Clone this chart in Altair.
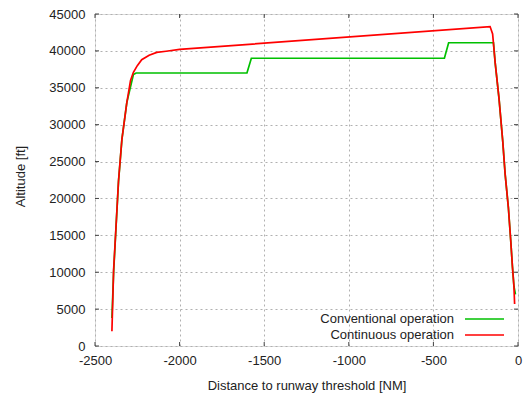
import altair as alt
import pandas as pd

# Conventional operation (green)
conv_x = [-2400, -2390, -2376, -2361, -2341, -2312, -2273, -2257, -1602, -1576,
          -435, -410, -145, -135, -112, -90, -76, -57, -43, -33, -24, -15]
conv_y = [3800, 10000, 16000, 22300, 28000, 33000, 36800, 37000, 37000, 39000,
          39000, 41100, 41100, 38400, 33500, 27700, 23300, 18800, 14300, 10800, 8100, 7000]

# Continuous operation (red)
cont_x = [-2400, -2390, -2376, -2361, -2341, -2312, -2290, -2273, -2250, -2224,
          -2180, -2135, -2080, -2000, -165, -150, -135, -112, -90, -76, -57, -43,
          -33, -24, -20]
cont_y = [2000, 10300, 16100, 22400, 28000, 33000, 36000, 37100, 38000, 38800,
          39400, 39800, 39950, 40200, 43300, 42300, 38400, 33500, 27700, 23300,
          18800, 14300, 10800, 8100, 5700]

x_ticks = [-2500, -2000, -1500, -1000, -500, 0]
y_ticks = [0, 5000, 10000, 15000, 20000, 25000, 30000, 35000, 40000, 45000]
series_names = ["Conventional operation", "Continuous operation"]
series_colors = ["#00c000", "#ff0000"]

W, H = 423, 332
FONT = "Liberation Sans"
TXT = "#222222"

df_conv = pd.DataFrame({"x": conv_x, "y": conv_y, "order": range(len(conv_x))})
df_cont = pd.DataFrame({"x": cont_x, "y": cont_y, "order": range(len(cont_x))})

xscale = alt.Scale(domain=[-2500, 0], nice=False, zero=False)
yscale = alt.Scale(domain=[0, 45000], nice=False, zero=False)

xaxis = alt.Axis(values=x_ticks, title="Distance to runway threshold [NM]",
                 grid=True, gridColor="#b0b0b0", gridDash=[2, 3], gridWidth=1,
                 ticks=False, labelPadding=8, labelFontSize=13, labelFont=FONT,
                 labelColor=TXT, titleFont=FONT, titleFontSize=13, titleFontWeight="normal",
                 titleColor=TXT, titleX=W / 2, titleY=39, titleBaseline="middle",
                 domain=False, labelExpr="'' + datum.value", labelFlush=False)
yaxis = alt.Axis(values=y_ticks, title="Altitude [ft]",
                 grid=True, gridColor="#b0b0b0", gridDash=[2, 3], gridWidth=1,
                 ticks=False, labelPadding=10, labelFontSize=13, labelFont=FONT,
                 labelColor=TXT, titleFont=FONT, titleFontSize=13, titleFontWeight="normal",
                 titleColor=TXT, titleX=-75, titleY=162, titleBaseline="middle",
                 titleAlign="center", titleAngle=-90,
                 domain=False, labelExpr="'' + datum.value", labelFlush=False)

conv = alt.Chart(df_conv).mark_line(color=series_colors[0], strokeWidth=1.7).encode(
    x=alt.X("x:Q", scale=xscale, axis=xaxis),
    y=alt.Y("y:Q", scale=yscale, axis=yaxis),
    order="order:Q",
)
cont = alt.Chart(df_cont).mark_line(color=series_colors[1], strokeWidth=1.7).encode(
    x=alt.X("x:Q", scale=xscale, axis=xaxis),
    y=alt.Y("y:Q", scale=yscale, axis=None),
    order="order:Q",
)

# inward tick marks on all four sides
dfx = pd.DataFrame({"v": x_ticks})
dfy = pd.DataFrame({"v": y_ticks})
tick_style = dict(color="#404040", strokeWidth=1)
tb = alt.Chart(dfx).mark_rule(**tick_style).encode(
    x=alt.X("v:Q", scale=xscale, axis=xaxis), y=alt.value(H), y2=alt.value(H - 4))
tt = alt.Chart(dfx).mark_rule(**tick_style).encode(
    x=alt.X("v:Q", scale=xscale, axis=xaxis), y=alt.value(0), y2=alt.value(4))
tl = alt.Chart(dfy).mark_rule(**tick_style).encode(
    y=alt.Y("v:Q", scale=yscale, axis=None), x=alt.value(0), x2=alt.value(4))
tr = alt.Chart(dfy).mark_rule(**tick_style).encode(
    y=alt.Y("v:Q", scale=yscale, axis=None), x=alt.value(W), x2=alt.value(W - 4))

# legend (gnuplot style: text then line sample)
df_leg = pd.DataFrame({"name": series_names, "color": series_colors})
leg_scale = alt.Scale(type="point", domain=series_names, range=[305, 321], padding=0)
leg_text = alt.Chart(df_leg).mark_text(align="right", baseline="middle", font=FONT,
                                       fontSize=13, color=TXT).encode(
    text="name:N", x=alt.value(359),
    y=alt.Y("name:N", scale=leg_scale, axis=None))
leg_line = alt.Chart(df_leg).mark_rule(strokeWidth=1.7).encode(
    x=alt.value(370), x2=alt.value(409),
    y=alt.Y("name:N", scale=leg_scale, axis=None),
    color=alt.Color("color:N", scale=None))

chart = alt.layer(conv, cont, tb, tt, tl, tr, leg_text, leg_line).resolve_scale(
    y="independent"
).properties(
    width=W, height=H,
    padding={"left": 87, "top": 6, "right": 5, "bottom": 47},
    autosize=alt.AutoSizeParams(type="none"),
).configure_view(stroke="#404040", strokeWidth=1).configure(background="white")

chart.save("out.html", embed_options={"renderer": "svg", "actions": False})
